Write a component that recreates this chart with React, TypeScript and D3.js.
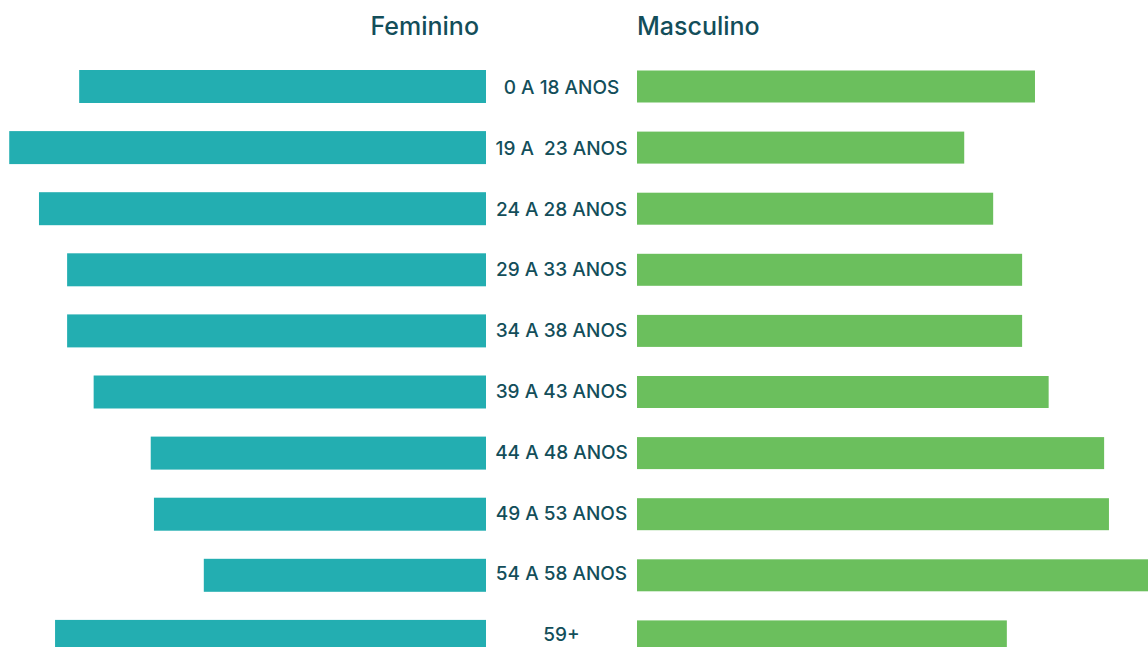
import React from "react";
import * as d3 from "d3";

const categories = [
  "0 A 18 ANOS",
  "19 A  23 ANOS",
  "24 A 28 ANOS",
  "29 A 33 ANOS",
  "34 A 38 ANOS",
  "39 A 43 ANOS",
  "44 A 48 ANOS",
  "49 A 53 ANOS",
  "54 A 58 ANOS",
  "59+",
];
const feminino = [50.6, 59.3, 55.6, 52.1, 52.1, 48.8, 41.7, 41.3, 35.1, 53.6];
const masculino = [49.5, 40.7, 44.3, 47.9, 47.9, 51.2, 58.1, 58.7, 64.9, 46.0];
const seriesNames = ["Feminino", "Masculino"];

const W = 1148;
const H = 647;
const TEAL = "#23aeb1";
const GREEN = "#6bbf5d";
const TEXT = "#134e5a";
const FONT = "Inter, 'Noto Sans', sans-serif";

export default function App() {
  const y = d3
    .scaleBand<string>()
    .domain(categories)
    .range([70, 70 + 9 * 61.1 + 33])
    .paddingInner(0.46)
    .paddingOuter(0);

  const yLabel = d3
    .scalePoint<string>()
    .domain(categories)
    .range([87, 87 + 9 * 60.8]);

  const xLeft = d3.scaleLinear().domain([0, 100]).range([486, 486 - 804]);
  const xRight = d3.scaleLinear().domain([0, 100]).range([637, 637 + 804]);
  const mid = (486 + 637) / 2;

  return (
    <svg
      width={W}
      height={H}
      style={{ position: "fixed", left: 0, top: 0, background: "#fff" }}
      fontFamily={FONT}
    >
      <text
        x={479}
        y={35}
        textAnchor="end"
        fontSize={25}
        fontWeight={500}
        fill={TEXT}
      >
        {seriesNames[0]}
      </text>
      <text
        x={637}
        y={35}
        textAnchor="start"
        fontSize={25}
        fontWeight={500}
        fill={TEXT}
      >
        {seriesNames[1]}
      </text>
      {categories.map((c, i) => {
        const y0 = y(c) as number;
        const bw = y.bandwidth();
        return (
          <g key={c}>
            <rect
              x={xLeft(feminino[i])}
              y={y0}
              width={xLeft(0) - xLeft(feminino[i])}
              height={bw}
              fill={TEAL}
            />
            <rect
              x={xRight(0)}
              y={y0 + 0.5}
              width={xRight(masculino[i]) - xRight(0)}
              height={bw - 1}
              fill={GREEN}
            />
            <text
              x={mid}
              y={(yLabel(c) as number) + 7}
              textAnchor="middle"
              fontSize={19}
              fontWeight={500}
              fill={TEXT}
              style={{ whiteSpace: "pre" }}
            >
              {c}
            </text>
          </g>
        );
      })}
    </svg>
  );
}
